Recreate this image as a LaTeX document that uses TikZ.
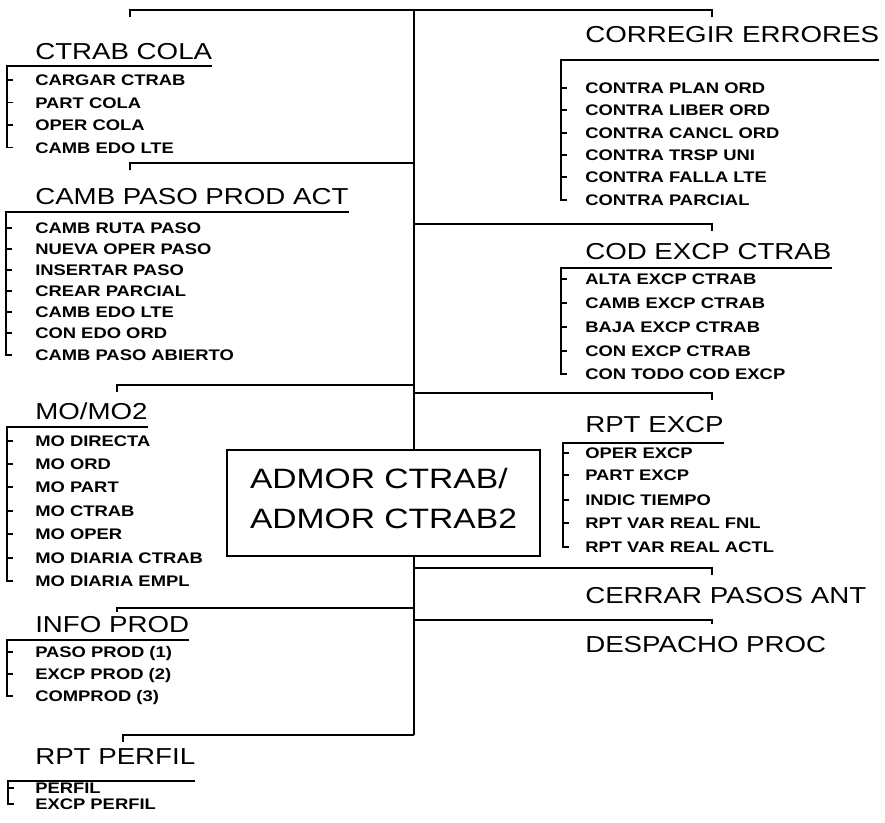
\documentclass[tikz,border=0pt]{standalone}
\usepackage{fontspec}
\setmainfont{Liberation Sans}
\newfontfamily\widesans{Liberation Sans}[FakeStretch=1.2]

\begin{document}
\begin{tikzpicture}[x=0.75pt,y=-0.75pt, line cap=butt, line join=miter,
  rule/.style={line width=1.2pt},
  hdr/.style={anchor=west, inner sep=0pt, text height=12.4pt, text depth=0pt,
              font=\widesans\fontsize{17.3}{20}\selectfont},
  itm/.style={anchor=west, inner sep=0pt, text height=8.3pt, text depth=0pt,
              font=\widesans\bfseries\fontsize{11.5}{13}\selectfont},
  mainbox/.style={draw, line width=1.4pt, fill=white, minimum width=234.75pt,
              minimum height=79.5pt, align=left, inner sep=0pt, text depth=7.5pt,
              font=\widesans\fontsize{21}{30}\selectfont}]

\useasboundingbox (0,0) rectangle (885,822);

% spine and its junctions
\coordinate (top) at (414,10);
\coordinate (bot) at (414,735);
\coordinate (jpaso) at (414,163);
\coordinate (jcod) at (414,224);
\coordinate (jmo) at (414,385);
\coordinate (jrpt) at (414,393);
\coordinate (jcerrar) at (414,568);
\coordinate (jinfo) at (414,608);
\coordinate (jdesp) at (414,620);
\draw[rule] (top) -- (bot);

% branch ends
\coordinate (colatick) at (130,17);
\coordinate (corrtick) at (712,17);
\coordinate (pasotick) at (130,170);
\coordinate (codtick) at (712,231);
\coordinate (motick) at (117,392);
\coordinate (rpttick) at (712,400);
\coordinate (cerrartick) at (712,575);
\coordinate (infotick) at (117,612);
\coordinate (desptick) at (712,624);
\coordinate (perfiltick) at (123,742);

\draw[rule] (colatick) |- (top) -| (corrtick);
\draw[rule] (jpaso) -| (pasotick);
\draw[rule] (jcod) -| (codtick);
\draw[rule] (jmo) -| (motick);
\draw[rule] (jrpt) -| (rpttick);
\draw[rule] (jcerrar) -| (cerrartick);
\draw[rule] (jinfo) -| (infotick);
\draw[rule] (jdesp) -| (desptick);
\draw[rule] (bot) -| (perfiltick);

% central box
\node[mainbox] (admor) at (383.5,503) {ADMOR CTRAB/\\ADMOR CTRAB2};

% CTRAB COLA
\node[hdr] (cola) at (35,51.5) {CTRAB COLA};
\coordinate (colabr) at (7,66);
\node[itm] (cola1) at (35,80) {CARGAR CTRAB};
\node[itm] (cola2) at (35,102.5) {PART COLA};
\node[itm] (cola3) at (35,125) {OPER COLA};
\node[itm] (cola4) at (35,147.5) {CAMB EDO LTE};
\draw[rule] (colabr -| cola.east) -- (colabr) -- (colabr |- cola4.west) -- ++(6,0);
\draw[rule] (colabr |- cola1.west) -- ++(6,0) (colabr |- cola2.west) -- ++(6,0)
            (colabr |- cola3.west) -- ++(6,0);

% CAMB PASO PROD ACT
\node[hdr] (paso) at (35,196.5) {CAMB PASO PROD ACT};
\coordinate (pasobr) at (6,212);
\node[itm] (paso1) at (35,228) {CAMB RUTA PASO};
\node[itm] (paso2) at (35,249) {NUEVA OPER PASO};
\node[itm] (paso3) at (35,270) {INSERTAR PASO};
\node[itm] (paso4) at (35,291) {CREAR PARCIAL};
\node[itm] (paso5) at (35,312) {CAMB EDO LTE};
\node[itm] (paso6) at (35,333) {CON EDO ORD};
\node[itm] (paso7) at (35,355) {CAMB PASO ABIERTO};
\draw[rule] (pasobr -| paso.east) -- (pasobr) -- (pasobr |- paso7.west) -- ++(6,0);
\draw[rule] (pasobr |- paso1.west) -- ++(6,0) (pasobr |- paso2.west) -- ++(6,0)
            (pasobr |- paso3.west) -- ++(6,0) (pasobr |- paso4.west) -- ++(6,0)
            (pasobr |- paso5.west) -- ++(6,0) (pasobr |- paso6.west) -- ++(6,0);

% MO/MO2
\node[hdr] (mo) at (35,411.5) {MO/MO2};
\coordinate (mobr) at (7,427);
\node[itm] (mo1) at (35,441) {MO DIRECTA};
\node[itm] (mo2) at (35,464) {MO ORD};
\node[itm] (mo3) at (35,487) {MO PART};
\node[itm] (mo4) at (35,511) {MO CTRAB};
\node[itm] (mo5) at (35,534) {MO OPER};
\node[itm] (mo6) at (35,558) {MO DIARIA CTRAB};
\node[itm] (mo7) at (35,581) {MO DIARIA EMPL};
\draw[rule] (mobr -| mo.east) -- (mobr) -- (mobr |- mo7.west) -- ++(6,0);
\draw[rule] (mobr |- mo1.west) -- ++(6,0) (mobr |- mo2.west) -- ++(6,0)
            (mobr |- mo3.west) -- ++(6,0) (mobr |- mo4.west) -- ++(6,0)
            (mobr |- mo5.west) -- ++(6,0) (mobr |- mo6.west) -- ++(6,0);

% INFO PROD
\node[hdr] (info) at (35,624) {INFO PROD};
\coordinate (infobr) at (7,640);
\node[itm] (info1) at (35,652) {PASO PROD (1)};
\node[itm] (info2) at (35,674) {EXCP PROD (2)};
\node[itm] (info3) at (35,696) {COMPROD (3)};
\draw[rule] (infobr -| info.east) -- (infobr) -- (infobr |- info3.west) -- ++(6,0);
\draw[rule] (infobr |- info1.west) -- ++(6,0) (infobr |- info2.west) -- ++(6,0);

% RPT PERFIL
\node[hdr] (perfil) at (35,756.5) {RPT PERFIL};
\coordinate (perfilbr) at (8,781);
\node[itm] (perfil1) at (35,788) {PERFIL};
\node[itm] (perfil2) at (35,804) {EXCP PERFIL};
\draw[rule] (perfilbr -| perfil.east) -- (perfilbr) -- (perfilbr |- perfil2.west) -- ++(6,0);
\draw[rule] (perfilbr |- perfil1.west) -- ++(6,0);

% CORREGIR ERRORES
\node[hdr] (corr) at (585,34.5) {CORREGIR ERRORES};
\coordinate (corrbr) at (561,60);
\node[itm] (corr1) at (585,88) {CONTRA PLAN ORD};
\node[itm] (corr2) at (585,110) {CONTRA LIBER ORD};
\node[itm] (corr3) at (585,133) {CONTRA CANCL ORD};
\node[itm] (corr4) at (585,155) {CONTRA TRSP UNI};
\node[itm] (corr5) at (585,177) {CONTRA FALLA LTE};
\node[itm] (corr6) at (585,200) {CONTRA PARCIAL};
\draw[rule] (corrbr -| corr.east) -- (corrbr) -- (corrbr |- corr6.west) -- ++(6,0);
\draw[rule] (corrbr |- corr1.west) -- ++(6,0) (corrbr |- corr2.west) -- ++(6,0)
            (corrbr |- corr3.west) -- ++(6,0) (corrbr |- corr4.west) -- ++(6,0)
            (corrbr |- corr5.west) -- ++(6,0);

% COD EXCP CTRAB
\node[hdr] (cod) at (585,251.5) {COD EXCP CTRAB};
\coordinate (codbr) at (561,268);
\node[itm] (cod1) at (585,279) {ALTA EXCP CTRAB};
\node[itm] (cod2) at (585,303) {CAMB EXCP CTRAB};
\node[itm] (cod3) at (585,327) {BAJA EXCP CTRAB};
\node[itm] (cod4) at (585,351) {CON EXCP CTRAB};
\node[itm] (cod5) at (585,374) {CON TODO COD EXCP};
\draw[rule] (codbr -| cod.east) -- (codbr) -- (codbr |- cod5.west) -- ++(6,0);
\draw[rule] (codbr |- cod1.west) -- ++(6,0) (codbr |- cod2.west) -- ++(6,0)
            (codbr |- cod3.west) -- ++(6,0) (codbr |- cod4.west) -- ++(6,0);

% RPT EXCP
\node[hdr] (rpt) at (585,424) {RPT EXCP};
\coordinate (rptbr) at (563,443);
\node[itm] (rpt1) at (585,453) {OPER EXCP};
\node[itm] (rpt2) at (585,475) {PART EXCP};
\node[itm] (rpt3) at (585,500) {INDIC TIEMPO};
\node[itm] (rpt4) at (585,523) {RPT VAR REAL FNL};
\node[itm] (rpt5) at (585,547) {RPT VAR REAL ACTL};
\draw[rule] (rptbr -| rpt.east) -- (rptbr) -- (rptbr |- rpt5.west) -- ++(6,0);
\draw[rule] (rptbr |- rpt1.west) -- ++(6,0) (rptbr |- rpt2.west) -- ++(6,0)
            (rptbr |- rpt3.west) -- ++(6,0) (rptbr |- rpt4.west) -- ++(6,0);

% single entries
\node[hdr] (cerrar) at (585,595) {CERRAR PASOS ANT};
\node[hdr] (desp) at (585,644) {DESPACHO PROC};

\end{tikzpicture}
\end{document}
